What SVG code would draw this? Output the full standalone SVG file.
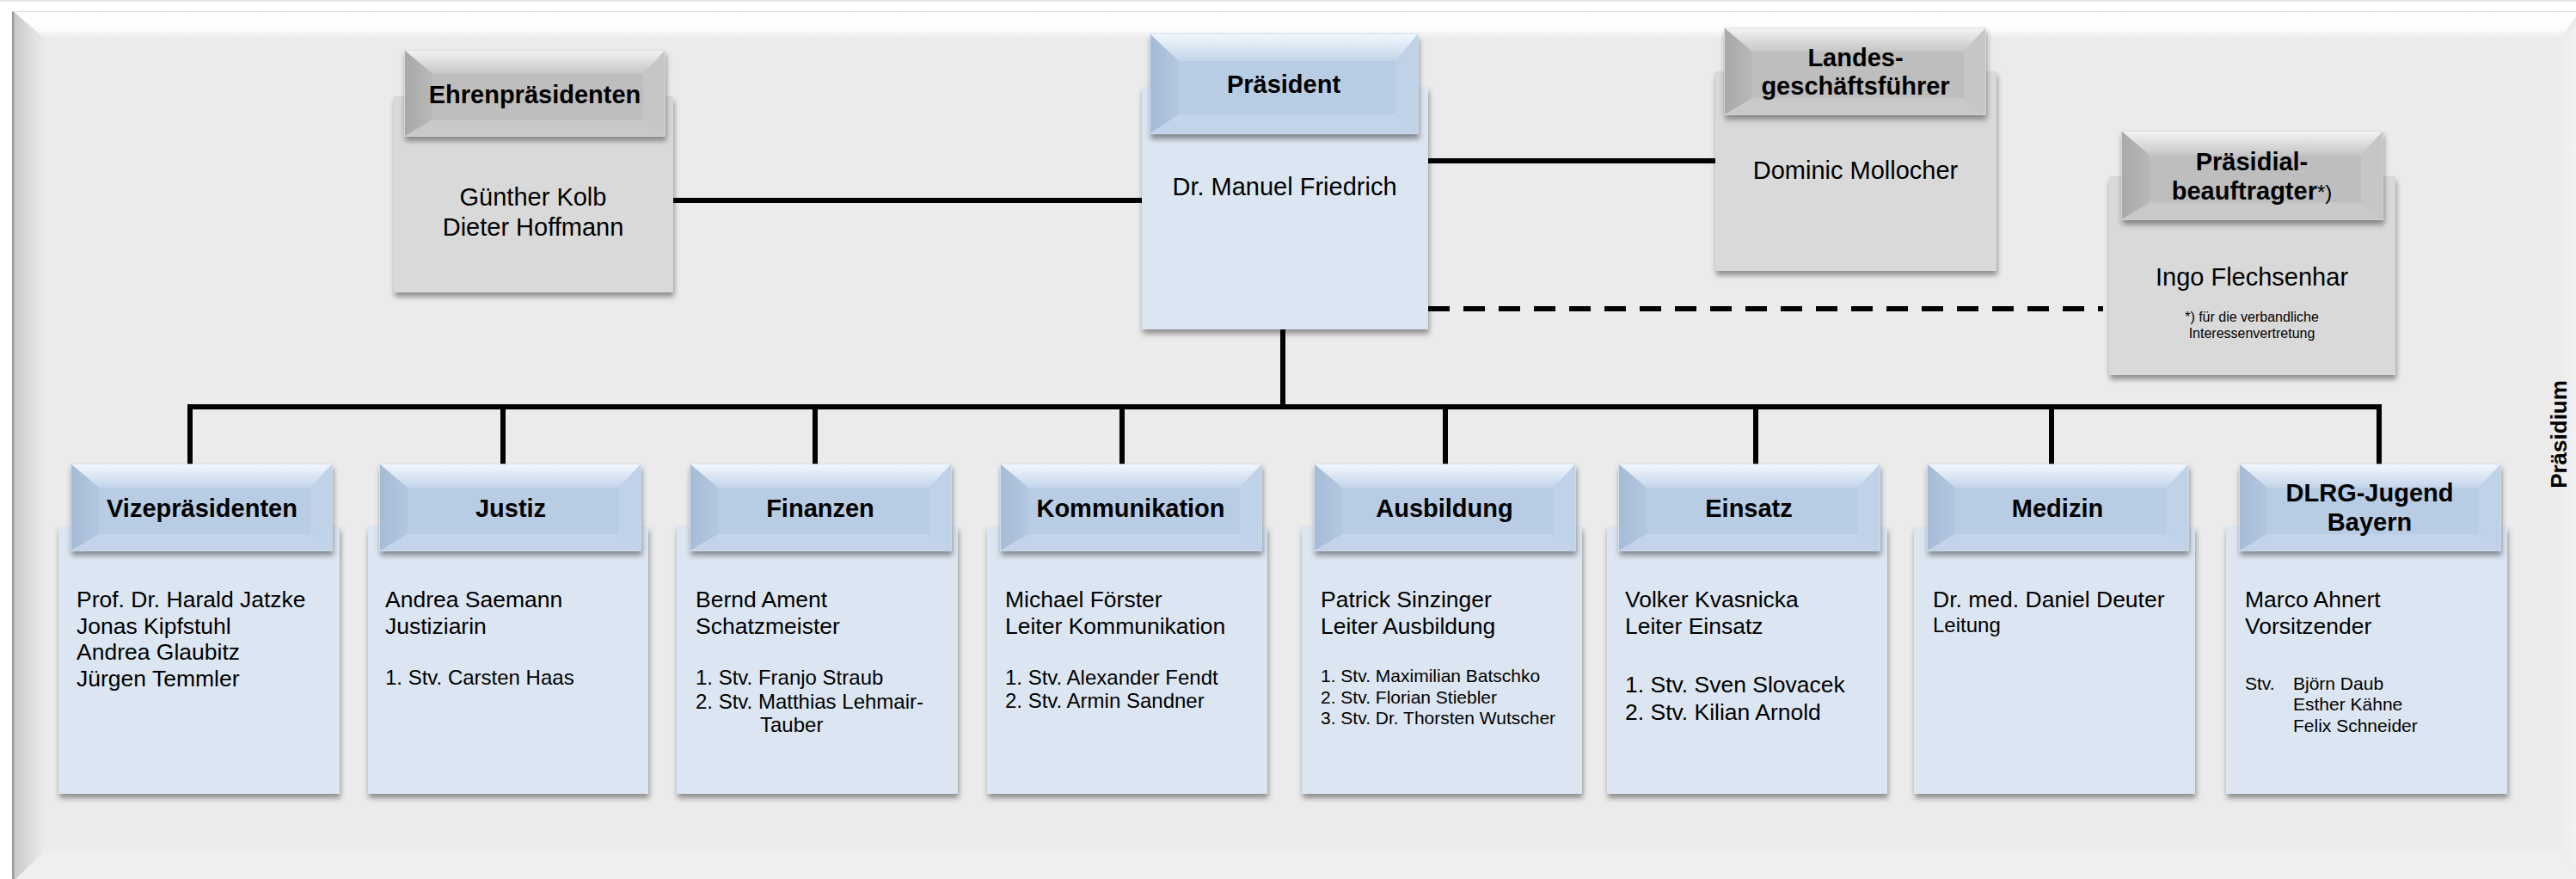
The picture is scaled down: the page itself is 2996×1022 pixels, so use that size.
<svg xmlns="http://www.w3.org/2000/svg" xmlns:xlink="http://www.w3.org/1999/xlink" width="2996" height="1022" viewBox="0 0 2996 1022">
<defs>
<style>
text{font-family:"Liberation Sans",Arial,sans-serif;fill:#000}
.hd{font-size:29px;font-weight:bold;text-anchor:middle}
.nm{font-size:29px;text-anchor:middle}
.bt{font-size:26.5px}
.sm{font-size:24px}
.xs{font-size:21px}
.note{font-size:16px;text-anchor:middle}
.bodyB{fill:#dce6f2}
.bodyG{fill:#d9d9d9}
.ln{stroke:#000;stroke-width:6;fill:none}
.dash{stroke-dasharray:25 16}
</style>
<filter id="sh" x="-10%" y="-10%" width="120%" height="125%">
<feDropShadow dx="1" dy="5" stdDeviation="3" flood-color="#000" flood-opacity="0.4"/>
</filter>
<linearGradient id="topB" x1="0" y1="0" x2="0" y2="1"><stop offset="0" stop-color="#f2f7fd"/><stop offset="1" stop-color="#c3d5ea"/></linearGradient>
<linearGradient id="leftB" x1="0" y1="0" x2="1" y2="0"><stop offset="0" stop-color="#a6bbd6"/><stop offset="1" stop-color="#b4c7df"/></linearGradient>
<linearGradient id="topG" x1="0" y1="0" x2="0" y2="1"><stop offset="0" stop-color="#f3f3f3"/><stop offset="1" stop-color="#c6c6c6"/></linearGradient>
<linearGradient id="leftG" x1="0" y1="0" x2="1" y2="0"><stop offset="0" stop-color="#a9a9a9"/><stop offset="1" stop-color="#b8b8b8"/></linearGradient>
<linearGradient id="pTop" x1="0" y1="0" x2="0" y2="1"><stop offset="0" stop-color="#ffffff"/><stop offset="0.65" stop-color="#fcfcfc"/><stop offset="1" stop-color="#ebebeb"/></linearGradient>
<linearGradient id="pLeft" x1="0" y1="0" x2="1" y2="0"><stop offset="0" stop-color="#c8c8c8"/><stop offset="0.75" stop-color="#e4e4e4"/><stop offset="1" stop-color="#eaeaea"/></linearGradient>
<linearGradient id="pRight" x1="0" y1="0" x2="1" y2="0"><stop offset="0" stop-color="#ececec"/><stop offset="1" stop-color="#f4f4f4"/></linearGradient>
<g id="hB">
<rect x="0" y="0" width="303" height="100" fill="#b8cce4" stroke="#d3e0f0" stroke-width="1.5"/>
<polygon points="0,0 303,0 278,27 32,27" fill="url(#topB)"/>
<polygon points="0,0 32,27 32,81 0,100" fill="url(#leftB)"/>
<polygon points="303,0 303,100 278,81 278,27" fill="#c0d2e8"/>
<polygon points="0,100 32,81 278,81 303,100" fill="#c3d4ea"/>
</g>
<g id="hG">
<rect x="0" y="0" width="303" height="100" fill="#bebebe" stroke="#dadada" stroke-width="1.5"/>
<polygon points="0,0 303,0 278,27 32,27" fill="url(#topG)"/>
<polygon points="0,0 32,27 32,81 0,100" fill="url(#leftG)"/>
<polygon points="303,0 303,100 278,81 278,27" fill="#c6c6c6"/>
<polygon points="0,100 32,81 278,81 303,100" fill="#c9c9c9"/>
</g>
</defs>

<g id="background">
<rect x="0" y="0" width="2996" height="1022" fill="#ffffff"/>
<rect x="0" y="0" width="2996" height="2" fill="#e4e4e4"/>
<rect x="15" y="13" width="2990" height="1020" fill="#ebebeb"/>
<polygon points="15,13 3000,13 2978,45 52,45" fill="url(#pTop)"/>
<polygon points="15,13 52,45 52,990 15,1025" fill="url(#pLeft)"/>
<polygon points="52,990 2978,990 3005,1025 15,1025" fill="#efefef"/>
<polygon points="2978,45 3000,28 3000,1015 2978,990" fill="url(#pRight)"/>
<rect x="14" y="13" width="2.5" height="1012" fill="#9c9c9c"/>
<rect x="15" y="13" width="2985" height="1" fill="#dcdcdc"/>
</g>

<g id="connectors">
<line class="ln" x1="783" y1="233" x2="1328" y2="233"/>
<line class="ln" x1="1661" y1="187" x2="1995" y2="187"/>
<line class="ln dash" x1="1661" y1="359" x2="2446" y2="359"/>
<line class="ln" x1="1492" y1="383" x2="1492" y2="473"/>
<line class="ln" x1="218" y1="473" x2="2770" y2="473"/>
<line class="ln" x1="221" y1="470" x2="221" y2="540"/>
<line class="ln" x1="585" y1="473" x2="585" y2="540"/>
<line class="ln" x1="948" y1="473" x2="948" y2="540"/>
<line class="ln" x1="1305" y1="473" x2="1305" y2="540"/>
<line class="ln" x1="1681" y1="473" x2="1681" y2="540"/>
<line class="ln" x1="2042" y1="473" x2="2042" y2="540"/>
<line class="ln" x1="2386" y1="473" x2="2386" y2="540"/>
<line class="ln" x1="2767" y1="470" x2="2767" y2="540"/>
</g>

<g id="node-ehrenpraesidenten">
<rect class="bodyG" x="458" y="112" width="325" height="228" filter="url(#sh)"/>
<use xlink:href="#hG" transform="translate(471,59) scale(0.997,0.99)" filter="url(#sh)"/>
<text class="hd" x="622" y="120">Ehrenpräsidenten</text>
<text class="nm" x="620" y="239">Günther Kolb</text>
<text class="nm" x="620" y="274">Dieter Hoffmann</text>
</g>

<g id="node-praesident">
<rect class="bodyB" x="1328" y="101" width="333" height="282" filter="url(#sh)"/>
<use xlink:href="#hB" transform="translate(1338,40) scale(1.026,1.15)" filter="url(#sh)"/>
<text class="hd" x="1493" y="108">Präsident</text>
<text class="nm" x="1494" y="227">Dr. Manuel Friedrich</text>
</g>

<g id="node-landesgeschaeftsfuehrer">
<rect class="bodyG" x="1995" y="83" width="327" height="232" filter="url(#sh)"/>
<use xlink:href="#hG" transform="translate(2006,33)" filter="url(#sh)"/>
<text class="hd" x="2158" y="77">Landes-</text>
<text class="hd" x="2158" y="110">geschäftsführer</text>
<text class="nm" x="2158" y="208">Dominic Mollocher</text>
</g>

<g id="node-praesidialbeauftragter">
<rect class="bodyG" x="2453" y="205" width="333" height="231" filter="url(#sh)"/>
<use xlink:href="#hG" transform="translate(2468,153) scale(1,1.02)" filter="url(#sh)"/>
<text class="hd" x="2619" y="198">Präsidial-</text>
<text class="hd" x="2619" y="232">beauftragter<tspan font-weight="normal" font-size="24">*)</tspan></text>
<text class="nm" x="2619" y="332">Ingo Flechsenhar</text>
<text class="note" x="2619" y="374">*) für die verbandliche</text>
<text class="note" x="2619" y="393">Interessenvertretung</text>
</g>

<g id="node-vizepraesidenten">
<rect class="bodyB" x="68" y="612" width="327" height="311" filter="url(#sh)"/>
<use xlink:href="#hB" transform="translate(83,540)" filter="url(#sh)"/>
<text class="hd" x="235" y="601">Vizepräsidenten</text>
<text class="bt" x="89" y="706">Prof. Dr. Harald Jatzke</text>
<text class="bt" x="89" y="737">Jonas Kipfstuhl</text>
<text class="bt" x="89" y="767">Andrea Glaubitz</text>
<text class="bt" x="89" y="798">Jürgen Temmler</text>
</g>

<g id="node-justiz">
<rect class="bodyB" x="428" y="612" width="326" height="311" filter="url(#sh)"/>
<use xlink:href="#hB" transform="translate(442,540)" filter="url(#sh)"/>
<text class="hd" x="594" y="601">Justiz</text>
<text class="bt" x="448" y="706">Andrea Saemann</text>
<text class="bt" x="448" y="737">Justiziarin</text>
<text class="sm" x="448" y="796">1. Stv. Carsten Haas</text>
</g>

<g id="node-finanzen">
<rect class="bodyB" x="787" y="612" width="327" height="311" filter="url(#sh)"/>
<use xlink:href="#hB" transform="translate(803,540)" filter="url(#sh)"/>
<text class="hd" x="954" y="601">Finanzen</text>
<text class="bt" x="809" y="706">Bernd Ament</text>
<text class="bt" x="809" y="737">Schatzmeister</text>
<text class="sm" x="809" y="796">1. Stv. Franjo Straub</text>
<text class="sm" x="809" y="824">2. Stv. Matthias Lehmair-</text>
<text class="sm" x="884" y="851">Tauber</text>
</g>

<g id="node-kommunikation">
<rect class="bodyB" x="1148" y="612" width="326" height="311" filter="url(#sh)"/>
<use xlink:href="#hB" transform="translate(1164,540)" filter="url(#sh)"/>
<text class="hd" x="1315" y="601">Kommunikation</text>
<text class="bt" x="1169" y="706">Michael Förster</text>
<text class="bt" x="1169" y="737">Leiter Kommunikation</text>
<text class="sm" x="1169" y="796">1. Stv. Alexander Fendt</text>
<text class="sm" x="1169" y="823">2. Stv. Armin Sandner</text>
</g>

<g id="node-ausbildung">
<rect class="bodyB" x="1514" y="612" width="326" height="311" filter="url(#sh)"/>
<use xlink:href="#hB" transform="translate(1529,540)" filter="url(#sh)"/>
<text class="hd" x="1680" y="601">Ausbildung</text>
<text class="bt" x="1536" y="706">Patrick Sinzinger</text>
<text class="bt" x="1536" y="737">Leiter Ausbildung</text>
<text class="xs" x="1536" y="793">1. Stv. Maximilian Batschko</text>
<text class="xs" x="1536" y="818">2. Stv. Florian Stiebler</text>
<text class="xs" x="1536" y="842">3. Stv. Dr. Thorsten Wutscher</text>
</g>

<g id="node-einsatz">
<rect class="bodyB" x="1869" y="612" width="326" height="311" filter="url(#sh)"/>
<use xlink:href="#hB" transform="translate(1883,540)" filter="url(#sh)"/>
<text class="hd" x="2034" y="601">Einsatz</text>
<text class="bt" x="1890" y="706">Volker Kvasnicka</text>
<text class="bt" x="1890" y="737">Leiter Einsatz</text>
<text class="bt" x="1890" y="805">1. Stv. Sven Slovacek</text>
<text class="bt" x="1890" y="837">2. Stv. Kilian Arnold</text>
</g>

<g id="node-medizin">
<rect class="bodyB" x="2226" y="612" width="327" height="311" filter="url(#sh)"/>
<use xlink:href="#hB" transform="translate(2242,540)" filter="url(#sh)"/>
<text class="hd" x="2393" y="601">Medizin</text>
<text class="bt" x="2248" y="706">Dr. med. Daniel Deuter</text>
<text class="sm" x="2248" y="735">Leitung</text>
</g>

<g id="node-dlrg-jugend">
<rect class="bodyB" x="2589" y="612" width="327" height="311" filter="url(#sh)"/>
<use xlink:href="#hB" transform="translate(2605,540)" filter="url(#sh)"/>
<text class="hd" x="2756" y="583">DLRG-Jugend</text>
<text class="hd" x="2756" y="617">Bayern</text>
<text class="bt" x="2611" y="706">Marco Ahnert</text>
<text class="bt" x="2611" y="737">Vorsitzender</text>
<text class="xs" x="2611" y="802">Stv.</text>
<text class="xs" x="2667" y="802">Björn Daub</text>
<text class="xs" x="2667" y="826">Esther Kähne</text>
<text class="xs" x="2667" y="851">Felix Schneider</text>
</g>

<g id="label-praesidium">
<text x="2985" y="505" transform="rotate(-90 2985 505)" font-size="26" font-weight="bold" text-anchor="middle">Präsidium</text>
</g>
</svg>
